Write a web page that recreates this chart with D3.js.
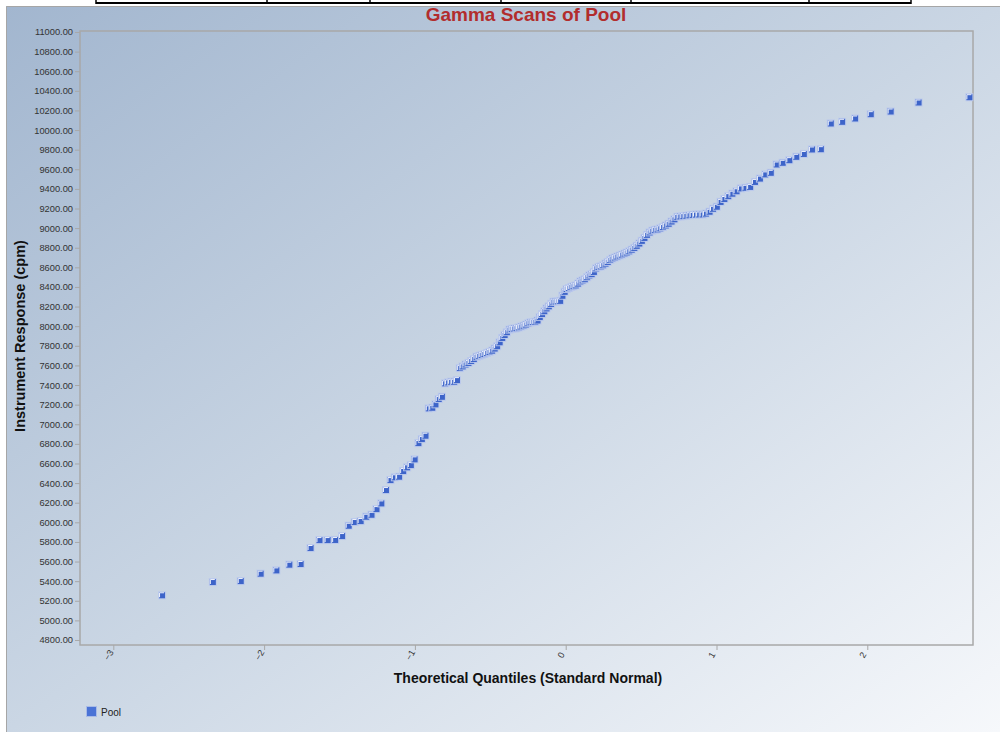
<!DOCTYPE html>
<html>
<head>
<meta charset="utf-8">
<script src="https://cdn.jsdelivr.net/npm/d3@7"></script>
<style>
  body { margin: 0; background: #fff; }
  svg { display: block; font-family: Arial, "Liberation Sans", sans-serif; }
</style>
</head>
<body>
<svg id="chart" width="1000" height="732"></svg>
<script>
// theoretical quantiles (standard normal), 168 ranks
const quantiles = [
  -2.677, -2.340, -2.155, -2.023, -1.919, -1.833, -1.758, -1.692, -1.633, -1.579,
  -1.529, -1.483, -1.439, -1.399, -1.360, -1.323, -1.288, -1.255, -1.223, -1.192,
  -1.162, -1.133, -1.105, -1.078, -1.052, -1.027, -1.002, -0.977, -0.954, -0.930,
  -0.908, -0.885, -0.864, -0.842, -0.821, -0.800, -0.780, -0.760, -0.740, -0.721,
  -0.702, -0.683, -0.664, -0.645, -0.627, -0.609, -0.591, -0.574, -0.557, -0.539,
  -0.522, -0.505, -0.488, -0.471, -0.455, -0.438, -0.421, -0.405, -0.390, -0.373,
  -0.358, -0.342, -0.326, -0.310, -0.295, -0.279, -0.264, -0.248, -0.233, -0.218,
  -0.202, -0.187, -0.172, -0.157, -0.142, -0.127, -0.112, -0.097, -0.082, -0.067,
  -0.052, -0.037, -0.022, -0.007, 0.007, 0.022, 0.037, 0.052, 0.067, 0.082,
  0.097, 0.112, 0.127, 0.142, 0.157, 0.172, 0.187, 0.202, 0.218, 0.233,
  0.248, 0.264, 0.279, 0.295, 0.310, 0.326, 0.342, 0.358, 0.373, 0.390,
  0.405, 0.421, 0.438, 0.455, 0.471, 0.488, 0.505, 0.522, 0.539, 0.557,
  0.574, 0.591, 0.609, 0.627, 0.645, 0.664, 0.683, 0.702, 0.721, 0.740,
  0.760, 0.780, 0.800, 0.821, 0.842, 0.864, 0.885, 0.908, 0.930, 0.954,
  0.977, 1.002, 1.027, 1.052, 1.078, 1.105, 1.133, 1.162, 1.192, 1.223,
  1.255, 1.288, 1.323, 1.360, 1.399, 1.439, 1.483, 1.529, 1.579, 1.633,
  1.692, 1.758, 1.833, 1.919, 2.023, 2.155, 2.340, 2.677
];

// instrument response (cpm), sorted
const responses = [
  5256, 5391, 5401, 5476, 5510, 5568, 5575, 5738, 5819, 5819,
  5820, 5860, 5965, 6003, 6013, 6057, 6077, 6135, 6193, 6329,
  6431, 6459, 6465, 6523, 6561, 6584, 6642, 6808, 6849, 6883,
  7162, 7168, 7203, 7257, 7280, 7417, 7427, 7433, 7433, 7450,
  7573, 7590, 7610, 7625, 7645, 7665, 7688, 7697, 7706, 7716,
  7727, 7737, 7750, 7772, 7796, 7836, 7880, 7910, 7939, 7965,
  7972, 7976, 7980, 7988, 7996, 8005, 8016, 8030, 8039, 8042,
  8044, 8058, 8093, 8124, 8153, 8181, 8203, 8227, 8249, 8251,
  8254, 8258, 8310, 8350, 8379, 8389, 8400, 8408, 8416, 8434,
  8455, 8467, 8479, 8500, 8518, 8531, 8553, 8590, 8604, 8610,
  8622, 8638, 8655, 8675, 8690, 8700, 8710, 8720, 8729, 8740,
  8751, 8764, 8780, 8798, 8819, 8843, 8870, 8900, 8931, 8956,
  8973, 8982, 8986, 8998, 9011, 9027, 9044, 9067, 9090, 9115,
  9119, 9122, 9126, 9131, 9135, 9138, 9139, 9139, 9148, 9167,
  9197, 9218, 9267, 9297, 9326, 9351, 9376, 9405, 9411, 9420,
  9471, 9505, 9548, 9564, 9649, 9666, 9693, 9727, 9756, 9802,
  9805, 10067, 10084, 10118, 10162, 10189, 10281, 10335
];

const seriesName = "Pool";
const xTicks = [-3, -2, -1, 0, 1, 2];
const yTicks = d3.range(4800, 11001, 200);

const svg = d3.select("#chart");
const plot = { left: 80, top: 31, right: 973, bottom: 645 };

const x = d3.scaleLinear().domain([-3.221, 2.701]).range([plot.left, plot.right]);
const y = d3.scaleLinear().domain([4749, 11010]).range([plot.bottom, plot.top]);

// background gradient
const defs = svg.append("defs");
const grad = defs.append("linearGradient")
  .attr("id", "bg")
  .attr("x1", "0").attr("y1", "0").attr("x2", "1").attr("y2", "1");
grad.append("stop").attr("offset", "0").attr("stop-color", "#a2b6cf");
grad.append("stop").attr("offset", "0.5").attr("stop-color", "#cad6e4");
grad.append("stop").attr("offset", "1").attr("stop-color", "#f6f8fb");

svg.append("rect")
  .attr("x", 6).attr("y", 6)
  .attr("width", 994).attr("height", 726)
  .attr("fill", "url(#bg)");
svg.append("path")
  .attr("d", "M6.5,732V6.5H1000")
  .attr("fill", "none")
  .attr("stroke", "#a6a6a6");

// table edge above the chart
const tableCols = [96, 267, 370, 501, 631, 809, 911];
svg.append("line")
  .attr("x1", 96).attr("x2", 911).attr("y1", 3).attr("y2", 3)
  .attr("stroke", "#000").attr("stroke-width", 2);
svg.selectAll(".tcol")
  .data(tableCols)
  .enter()
  .append("line")
  .attr("x1", d => d).attr("x2", d => d)
  .attr("y1", 0).attr("y2", 4)
  .attr("stroke", "#000").attr("stroke-width", 1.5);

// title
svg.append("text")
  .attr("x", 526).attr("y", 21)
  .attr("text-anchor", "middle")
  .style("font-size", "19px")
  .style("font-weight", "bold")
  .style("fill", "#b22d2d")
  .text("Gamma Scans of Pool");

// plot frame
svg.append("rect")
  .attr("x", plot.left).attr("y", plot.top)
  .attr("width", plot.right - plot.left)
  .attr("height", plot.bottom - plot.top)
  .attr("fill", "none")
  .attr("stroke", "#a8a8a8")
  .attr("stroke-width", 1.5);

// y axis
const yAxis = svg.append("g")
  .attr("transform", `translate(${plot.left},0)`)
  .call(d3.axisLeft(y).tickValues(yTicks).tickFormat(d3.format(".2f")).tickSize(5).tickPadding(2));
yAxis.select(".domain").remove();
yAxis.selectAll("line").attr("stroke", "#a8a8a8");
yAxis.selectAll("text").style("font-size", "9.3px").style("fill", "#333");

// x axis
const xAxis = svg.append("g")
  .attr("transform", `translate(0,${plot.bottom})`)
  .call(d3.axisBottom(x).tickValues(xTicks).tickSize(5).tickFormat(d3.format("d")));
xAxis.select(".domain").remove();
xAxis.selectAll("line").attr("stroke", "#a8a8a8");
xAxis.selectAll("text")
  .attr("y", 0).attr("dy", null)
  .attr("text-anchor", "middle")
  .attr("dominant-baseline", "central")
  .attr("transform", "translate(-5,10) rotate(-60)")
  .style("font-size", "9px")
  .style("fill", "#333");

// axis titles
svg.append("text")
  .attr("x", 528).attr("y", 683)
  .attr("text-anchor", "middle")
  .style("font-size", "14px")
  .style("font-weight", "bold")
  .style("fill", "#111")
  .text("Theoretical Quantiles (Standard Normal)");

svg.append("text")
  .attr("transform", "translate(25,336) rotate(-90)")
  .attr("text-anchor", "middle")
  .style("font-size", "14.5px")
  .style("font-weight", "bold")
  .style("fill", "#111")
  .text("Instrument Response (cpm)");

// points
const points = quantiles.map((q, i) => ({ q, v: responses[i] }));
const marks = svg.append("g")
  .selectAll("g")
  .data(points)
  .enter()
  .append("g")
  .attr("transform", d => `translate(${x(d.q)},${y(d.v)})`);

marks.append("rect")
  .attr("x", -4).attr("y", -4)
  .attr("width", 8).attr("height", 8)
  .attr("fill", "#b9c8ec")
  .attr("opacity", 0.9);
marks.append("rect")
  .attr("x", -3).attr("y", -3)
  .attr("width", 6).attr("height", 6)
  .attr("fill", "#3d64c9");
marks.append("path")
  .attr("d", "M-2.5,2V-2.5H2")
  .attr("fill", "none")
  .attr("stroke", "#eef2fc")
  .attr("stroke-width", 1);

// legend
const legend = svg.append("g").attr("transform", "translate(86,706)");
legend.append("rect")
  .attr("x", 0.5).attr("y", 0.5)
  .attr("width", 10).attr("height", 10)
  .attr("fill", "#4a73d6")
  .attr("stroke", "#a9bbe6");
legend.append("text")
  .attr("x", 15).attr("y", 9.5)
  .style("font-size", "10px")
  .style("fill", "#222")
  .text(seriesName);
</script>
</body>
</html>
